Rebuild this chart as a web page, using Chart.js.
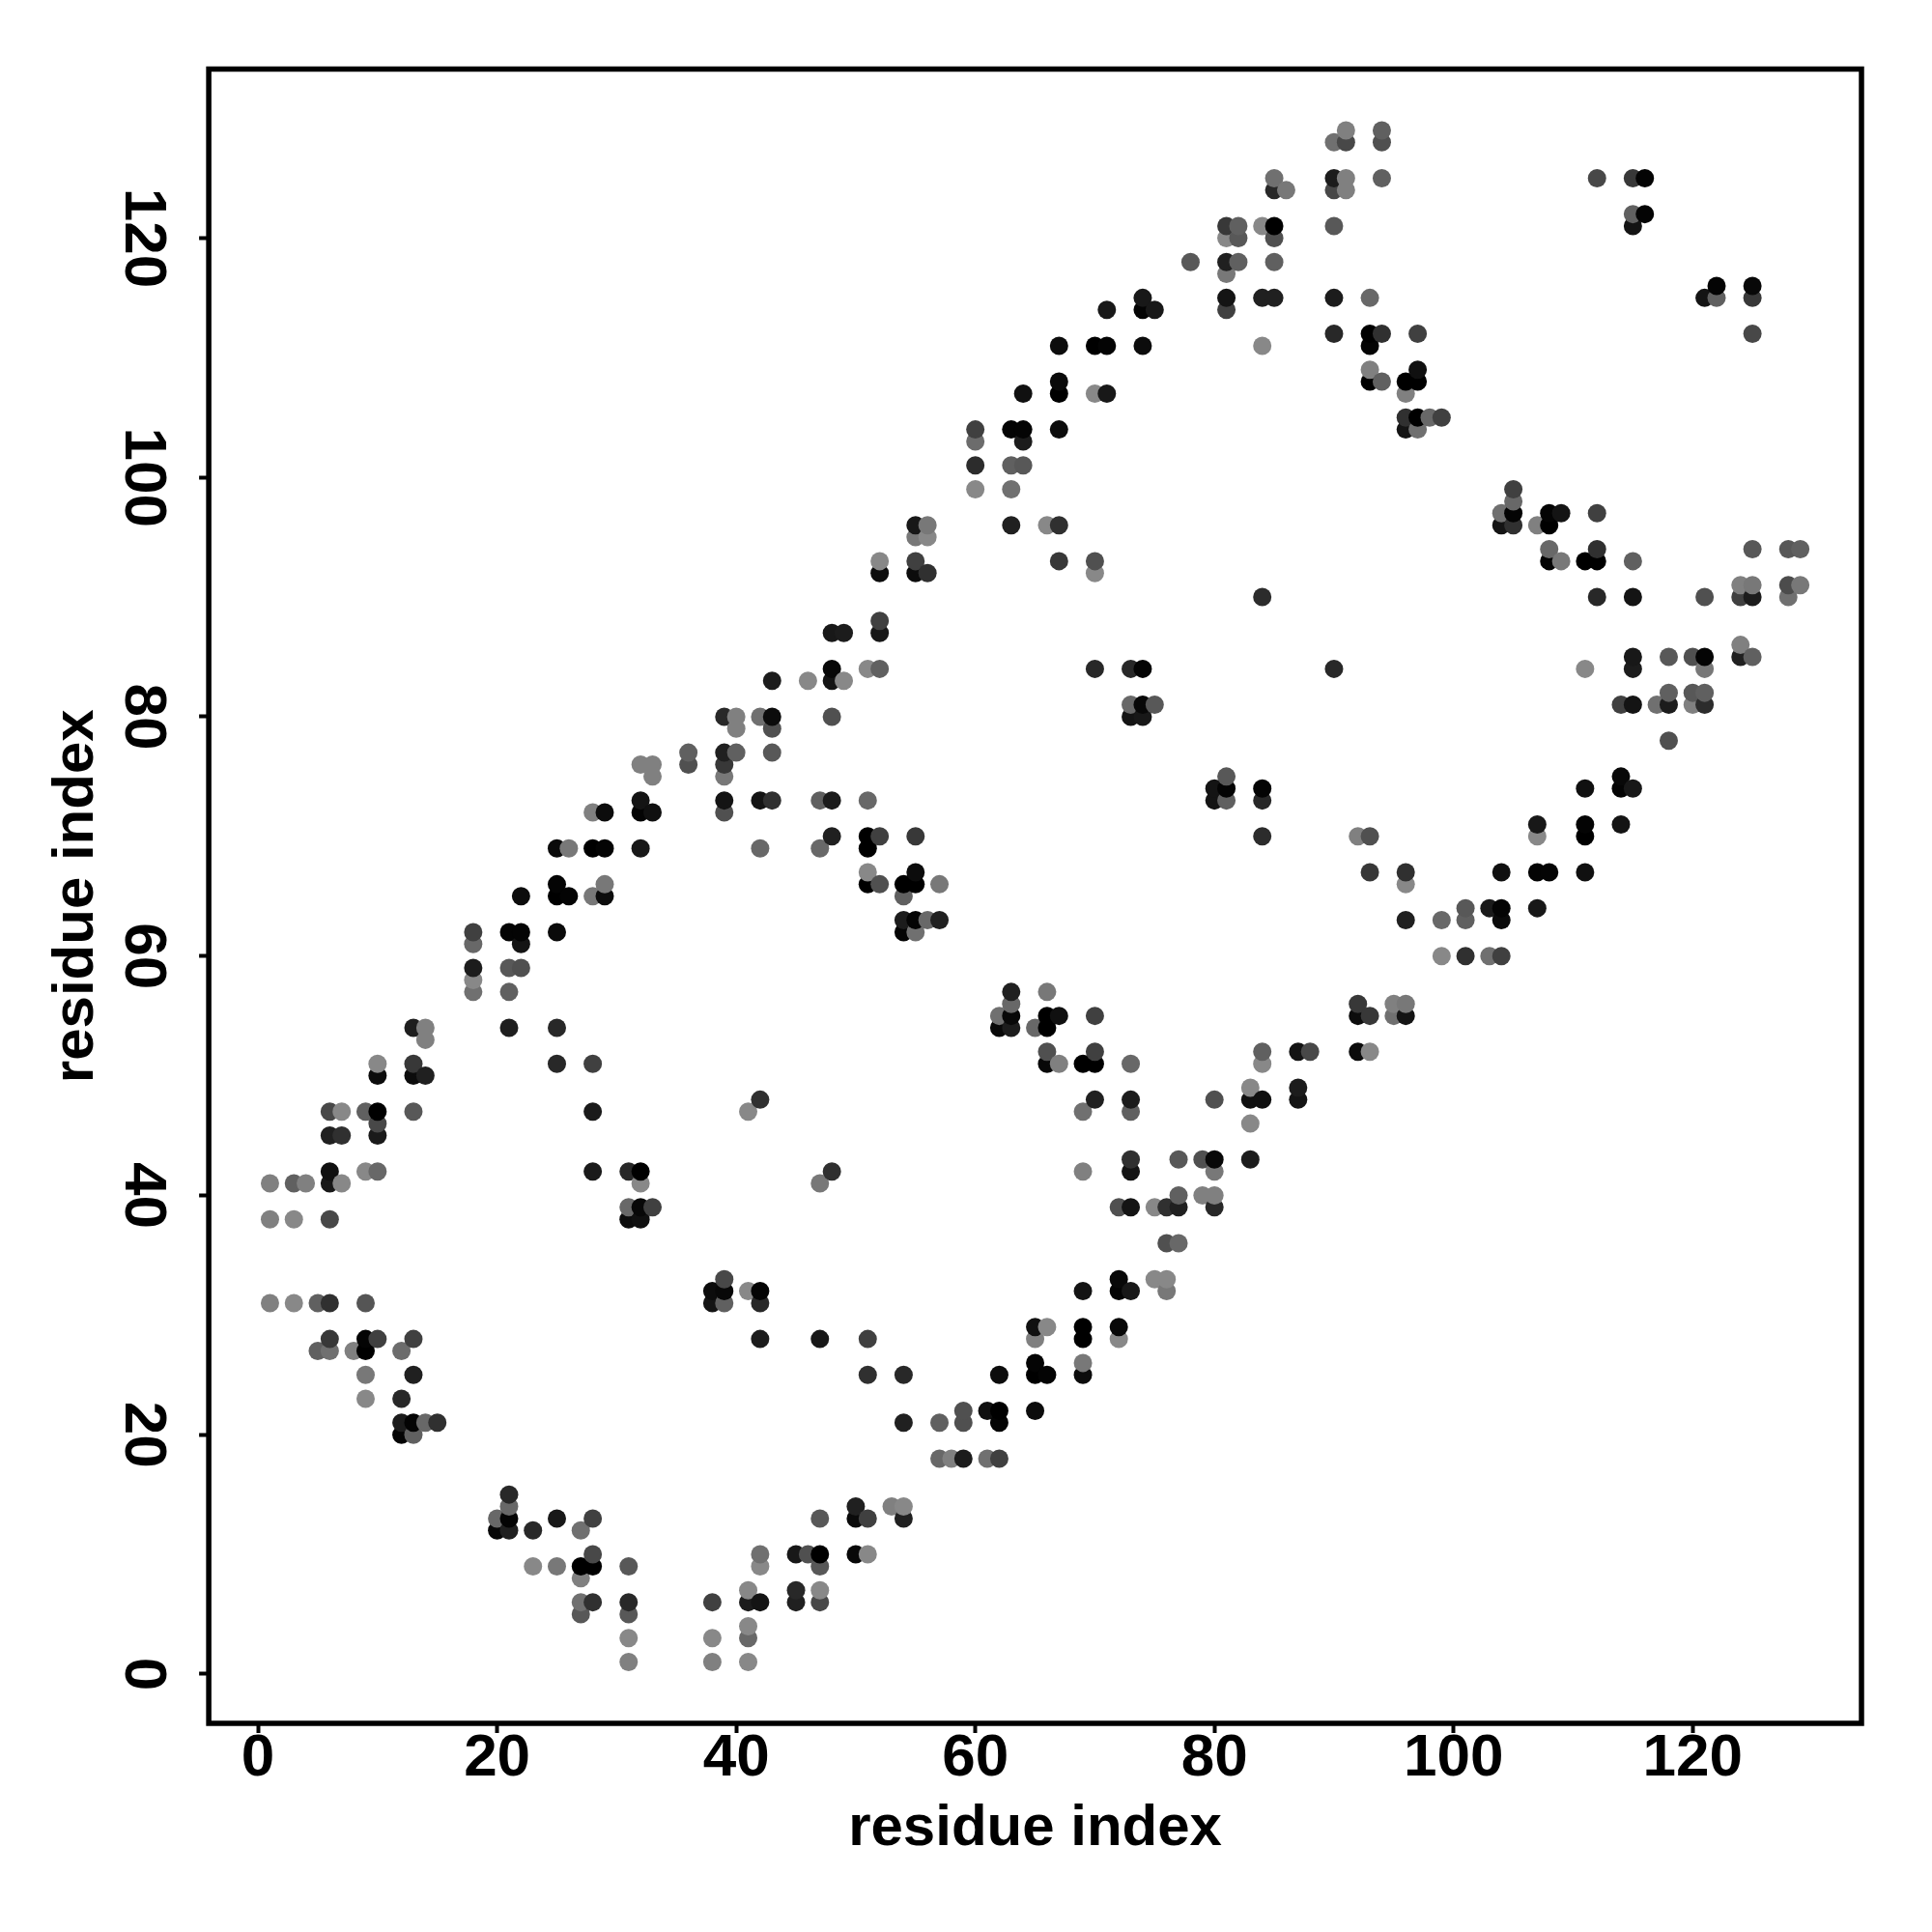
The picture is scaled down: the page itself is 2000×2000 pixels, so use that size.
<!DOCTYPE html>
<html>
<head>
<meta charset="utf-8">
<title>residue contacts</title>
<script src="https://cdn.jsdelivr.net/npm/chart.js@4"></script>
<style>
html, body { margin: 0; padding: 0; background: #fff; }
canvas { display: block; }
</style>
</head>
<body>
<canvas id="contact_map" width="2000" height="2000"></canvas>
<script>
var tickValues = [0, 20, 40, 60, 80, 100, 120];
var axisTitle = "residue index";

// one entry per residue on the y axis
var rowY = [129,128,125,124,122,121,120,118,117,116,115,114,112,111,109,108,107,105,104,103,101,99,98,97,96,95,94,93,92,91,90,88,87,86,85,84,83,82,81,80,79,78,77,76,75,74,73,72,71,70,69,67,66,65,64,63,62,61,60,59,58,57,56,55,54,53,52,51,50,49,48,47,46,45,43,42,41,40,39,38,36,33,32,31,29,28,27,26,25,23,22,21,20,18,15,14,13,12,10,9,8,7,6,5,4,3,1];

var rowX = [
    [91,94],[90,91,94],[85,90,91,94,112,115,116],[85,86,90,91],[115,116],[81,82,84,85,90,115],[81,82,85],[78,81,82,85],[81],[122,125],
    [74,81,84,85,90,93,121,122,125],[71,74,75,81],[90,93,94,97,125],[67,70,71,74,84,93],[93,97],[67,93,94,96,97],[64,67,70,71,96],[96,97,98,99],[60,63,64,67,96,97],[60,64],
    [60,63,64],[60,63,105],[105],[104,105,108,109,112],[55,56,63,66,67,104,105,107,108],[55,56],[108,112,125,128,129],[52,55,67,70,108,109,111,112,115],[52,55,56,70],[124,125,128,129],
    [84,112,115,121,124,125,128],[52],[48,49,52],[124],[115,118,120,121,124,125],[48,51,52,70,73,74,90,111,115,121],[43,46,48,49],[118,120,121],[73,74,75,114,115,117,118,120,121],[39,40,42,43,48,73,74],
    [40,43],[118],[36,39,40,43],[32,33,36,39],[33,39,81,114],[80,81,84,111,114,115],[32,39,42,43,47,48,51,80,81,84],[28,29,32,33,39],[107,111,114],[48,51,52,55,84,92,93,107,111],
    [25,26,28,29,32,42,47,51],[51,55,93,96,104,107,108,111],[25,29,51,52,54,55,57,96],[22,25,26,28,29,54],[101,103,104,107],[54,55,56,57,96,99,101,104],[18,21,22,25,54,55],[18,22],[99,101,103,104],[18,21,22],
    [18],[18,21,63,66],[63,92,95,96],[62,63,66,67,70,92,93,95,96],[13,14,21,25,62,63,65,66],[14],[66,70,84,87,88,92,93],[10,13,25,28,66,67,69,70,73,84],[10,13,14],[83,87],
    [42,70,73,80,83,84,87],[6,7,9,10,13,28,41,69,73],[10,83],[6,7,10],[73,77,79,80,83],[6,9,10,28,31,32,48,69,73,80],[1,3,4,6,7,32,47],[77,79,80],[31,32,33,72,73,75,76,77,80],[1,3,6,31,32],
    [76,77],[39,72,75,76],[38,39,41,42,69,72,73,76],[1,3,5,6,9,38,39,42],[65,66,69,72],[6,9,10,13,42,47,51,65,69,72],[5,6,8,9,12],[65,69],[9,13,51,54,62,65,66,69],[9,12],
    [59,61,62,65],[12,13,14,15,54,57,59,62],[12,13],[57,58,59,61,62],[21],[21,50,53,54],[20,21,25,28,47,50,51,54],[20,21,23,27],[28,42,45,46,47,50,51],[23,25,27,28,31,42,47],
    [27],[41,45,47],[27,28,31,38,41,42,45,47],[27,31],[41],[31,38,41],[31,38,41]
];

// contact strength of each point, same shape as rowX. 0 is the palest grey, 136 is black
var rowStrength = [
    [8,40],[24,64,56],[24,108,8,40,64,80,132],[96,16,64,8],[40,132],[80,40,0,136,48,116],[0,48,56],[48,104,40,40],[16],[132,128],
    [112,116,104,104,108,32,116,40,80],[112,132,112,72],[96,136,88,72,64],[124,136,132,124,0,132],[8,120],[126,136,40,136,136],[120,136,0,112,8],[88,136,32,72],[72,132,132,124,116,24],[28,108],
    [92,40,48],[0,24,72],[32],[24,132,132,116,72],[112,16,104,0,88,116,88,8,136],[16,0],[32,88,48,48,40],[0,72,80,56,132,16,136,136,40],[124,124,88,0],[8,16,60,16],
    [92,96,116,56,72,108,24],[72],[112,108,112],[8],[112,48,56,132,104,40],[128,0,40,96,96,132,96,0,108,16],[108,0,116,0],[40,48,40],[32,128,48,72,116,24,108,8,92],[96,8,24,124,56,116,112],
    [8,56],[56],[40,104,40,48],[8,8,56,80],[8,16,48,128],[116,132,132,120,132,112],[116,116,116,88,40,108,32,116,40,96],[8,124,132,120,56],[112,132,116],[104,136,72,80,92,8,56,0,136],
    [126,16,136,132,112,32,32,136],[0,124,80,88,120,132,132,120],[132,16,136,56,136,136,16,0],[124,136,132,16,124,40],[48,110,132,112],[108,132,32,104,104,32,40,126],[72,132,132,126,132,24],[32,116],[0,88,24,72],[108,48,56],
    [0],[24,40,104,16],[32,80,8,16],[24,128,136,120,72,124,80,24,116],[106,8,106,96,128,108,32,136],[8],[56,72,40,116,64,124,0],[0,80,96,72,128,8,136,136,32,0],[124,124,104],[0,108],
    [88,104,108,56,120,120,116],[64,0,40,136,48,110,0,24,40],[64,0],[104,88,110],[88,48,56,128,108],[120,0,32,110,96,136,88,8,116,16],[8,40,8,112,0,0,16],[40,8,8],[32,128,72,56,116,0,88,104,96],[8,0,64,124,120],
    [56,32],[64,128,0,0],[124,128,0,132,116,132,112,16],[8,0,40,88,51,116,40,96],[120,0,136,128],[80,132,72,72,108,112,72,8,136,0],[40,24,8,136,28],[132,16],[16,104,88,96,124,136,132,124],[0,96],
    [56,120,136,124],[108,132,32,88,104,40,56,132],[132,40],[32,8,108,24,72],[96],[32,104,8,0],[32,132,112,72,48,126,72,104],[128,104,96,24],[64,24,112,56,136,128,0],[0,16,136,136,48,0,48],
    [8],[0,96,0],[24,88,96,72,108,116,104,64],[48,48],[0],[0,0,32],[8,8,0]
];

var contacts = [];
rowY.forEach(function(y, i){
    rowX[i].forEach(function(x, j){
        contacts.push({x: x, y: y, strength: rowStrength[i][j]});
    });
});
// later residues are painted on top of earlier ones
contacts.sort(function(a, b){ return a.x - b.x || a.y - b.y; });

function strengthColor(strength){
    var g = 136 - strength;
    return "rgb(" + g + "," + g + "," + g + ")";
}

var boxPlugin = {
    id: "box",
    afterDraw: function(chart){
        var ctx = chart.ctx, a = chart.chartArea;
        ctx.save();
        ctx.lineWidth = 5.5;
        ctx.strokeStyle = "#000";
        ctx.strokeRect(a.left, a.top, a.right - a.left, a.bottom - a.top);
        ctx.restore();
    }
};

function fixedTicks(scale){
    scale.ticks = tickValues.map(function(v){ return {value: v}; });
}

var titleFont = {family: "'Liberation Sans'", size: 60, weight: "bold"};
var tickFont = {family: "'Liberation Sans'", size: 62, weight: "bold"};

new Chart(document.getElementById("contact_map").getContext("2d"), {
    type: "scatter",
    data: {
        datasets: [{
            data: contacts,
            pointRadius: 9.5,
            pointBorderWidth: 0,
            pointBackgroundColor: contacts.map(function(c){ return strengthColor(c.strength); })
        }]
    },
    options: {
        responsive: false,
        animation: false,
        layout: {padding: {left: 0, top: 71.5, right: 73, bottom: 0}},
        plugins: {legend: {display: false}, tooltip: {enabled: false}},
        scales: {
            x: {
                type: "linear",
                position: "bottom",
                min: -4.12,
                max: 134.12,
                afterBuildTicks: fixedTicks,
                afterFit: function(scale){ scale.height = 216; },
                border: {display: false},
                grid: {drawOnChartArea: false, drawTicks: true, tickLength: 10, tickWidth: 4, tickColor: "#000"},
                ticks: {autoSkip: false, maxRotation: 0, minRotation: 0, padding: -10, color: "#000", font: tickFont},
                title: {display: true, text: axisTitle, color: "#000", font: titleFont, padding: {top: 0, bottom: 71}}
            },
            y: {
                type: "linear",
                position: "left",
                min: -4.12,
                max: 134.12,
                afterBuildTicks: fixedTicks,
                afterFit: function(scale){ scale.width = 216.1; },
                border: {display: false},
                grid: {drawOnChartArea: false, drawTicks: true, tickLength: 10, tickWidth: 4, tickColor: "#000"},
                ticks: {autoSkip: false, minRotation: -90, maxRotation: -90, crossAlign: "center", padding: 7.5, color: "#000", font: tickFont},
                title: {display: true, text: axisTitle, color: "#000", font: titleFont, padding: {top: 43, bottom: 0}}
            }
        }
    },
    plugins: [boxPlugin]
});
</script>
</body>
</html>
